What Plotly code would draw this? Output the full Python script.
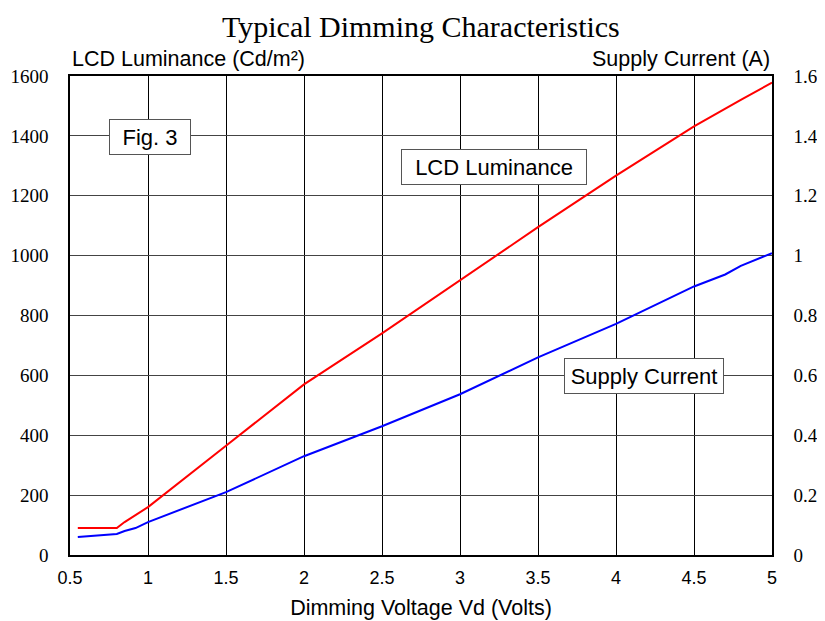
import plotly.graph_objects as go

# Luminance (left axis, Cd/m^2)
lum_x = [0.55, 0.8, 0.85, 1.0, 1.5, 2.0, 2.5, 3.0, 3.5, 4.0, 4.5, 4.8, 5.0]
lum_y = [90, 90, 110, 160, 365, 570, 740, 918, 1095, 1267, 1432, 1520, 1578]

# Supply current (right axis, A)
cur_x = [0.55, 0.8, 0.85, 0.92, 1.0, 1.5, 2.0, 2.5, 3.0, 3.5, 4.0, 4.5, 4.7, 4.8, 5.0]
cur_y = [0.06, 0.07, 0.08, 0.09, 0.11, 0.21, 0.33, 0.43, 0.537, 0.66, 0.772, 0.897, 0.937, 0.966, 1.008]

x_ticks = [0.5, 1, 1.5, 2, 2.5, 3, 3.5, 4, 4.5, 5]
x_tick_labels = ["0.5", "1", "1.5", "2", "2.5", "3", "3.5", "4", "4.5", "5"]
y_ticks = [0, 200, 400, 600, 800, 1000, 1200, 1400, 1600]
y2_ticks = [0, 0.2, 0.4, 0.6, 0.8, 1.0, 1.2, 1.4, 1.6]
y2_labels = ["0", "0.2", "0.4", "0.6", "0.8", "1", "1.2", "1.4", "1.6"]

serif = "Liberation Serif, Times New Roman, serif"
sans = "Liberation Sans, Arial, sans-serif"

fig = go.Figure()
fig.add_trace(go.Scatter(x=lum_x, y=lum_y, mode="lines",
                         line=dict(color="#ff0000", width=2), yaxis="y"))
fig.add_trace(go.Scatter(x=cur_x, y=cur_y, mode="lines",
                         line=dict(color="#0000ff", width=2), yaxis="y2"))

fig.update_layout(
    width=825, height=621,
    margin=dict(l=62, r=61, t=68, b=74),
    paper_bgcolor="white", plot_bgcolor="white",
    showlegend=False,
    xaxis=dict(range=[0.5, 5], tickvals=x_ticks, ticktext=x_tick_labels,
               automargin=False,
               showgrid=True, gridcolor="black", gridwidth=1,
               showline=True, linecolor="black", linewidth=1.5, mirror=True,
               zeroline=False, ticks="", ticklabelstandoff=6,
               tickfont=dict(family=sans, size=18, color="black"),
               title=dict(text="Dimming Voltage Vd (Volts)", standoff=13,
                          font=dict(family=sans, size=21.5, color="black"))),
    yaxis=dict(range=[0, 1600], tickvals=y_ticks, automargin=False,
               showgrid=True, gridcolor="#444444", gridwidth=1,
               showline=True, linecolor="black", linewidth=1.5, mirror=True,
               zeroline=False, ticks="", ticklabelstandoff=16,
               tickfont=dict(family=serif, size=19, color="black")),
    yaxis2=dict(range=[0, 1.6], tickvals=y2_ticks, ticktext=y2_labels,
                automargin=False,
                overlaying="y", side="right", showgrid=False,
                showline=True, linecolor="black", linewidth=1.5,
                zeroline=False, ticks="", ticklabelstandoff=16,
                tickfont=dict(family=serif, size=19, color="black")),
)

fig.add_annotation(text="Typical Dimming Characteristics", x=0.5, xref="paper",
                   xanchor="center", y=1, yref="paper", yanchor="top",
                   yshift=68, showarrow=False,
                   font=dict(family=serif, size=30, color="black"))

box = dict(showarrow=False, bgcolor="white", bordercolor="#555555",
           borderwidth=1, borderpad=4, height=26,
           font=dict(family=sans, size=22, color="black"))

fig.add_annotation(text="Fig. 3", x=1.01, y=1397, xref="x", yref="y", width=72, **box)
fig.add_annotation(text="LCD Luminance", x=3.22, y=1297, xref="x", yref="y", width=176, **box)
fig.add_annotation(text="Supply Current", x=4.18, y=597, xref="x", yref="y", width=150, **box)

fig.add_annotation(text="LCD Luminance (Cd/m²)", x=0, xref="paper", xanchor="left",
                   y=1, yref="paper", yanchor="bottom", yshift=3, showarrow=False,
                   font=dict(family=sans, size=21.5, color="black"))
fig.add_annotation(text="Supply Current (A)", x=1, xref="paper", xanchor="right",
                   y=1, yref="paper", yanchor="bottom", yshift=3, showarrow=False,
                   font=dict(family=sans, size=21.5, color="black"))

fig.write_html("out.html")
